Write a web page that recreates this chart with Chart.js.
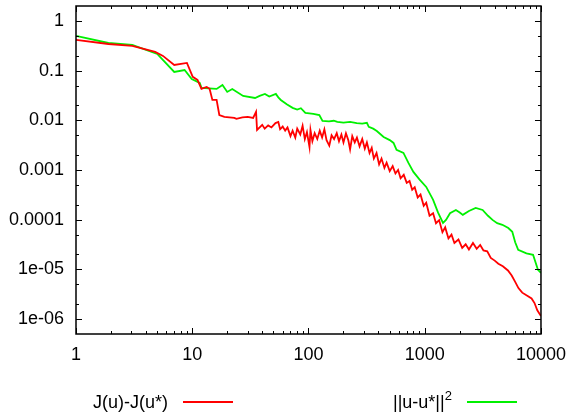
<!DOCTYPE html>
<html>
<head>
<meta charset="UTF-8">
<title>J(u)-J(u*) / ||u-u*||^2</title>
<style>
  body { margin: 0; background: #fff; }
  #wrap { position: relative; width: 576px; height: 413px; font-family: "Liberation Sans", Arial, sans-serif; }
  #c { position: absolute; left: 0; top: 0; }
  .lg { position: absolute; font-size: 18px; line-height: 20px; color: #000; white-space: nowrap; }
  .lg sup { font-size: 13px; vertical-align: 8px; line-height: 0; }
  .ln { position: absolute; height: 0; width: 50px; border-top: 2px solid; }
</style>
<script src="https://cdn.jsdelivr.net/npm/chart.js"></script>
</head>
<body>
<div id="wrap">
  <canvas id="c" width="576" height="413"></canvas>
  <div class="lg" style="left:93px; top:392px;">J(u)-J(u*)</div>
  <div class="ln" style="left:183px; top:401px; border-color:#ff0000;"></div>
  <div class="lg" style="left:393px; top:392px;">||u-u*||<sup>2</sup></div>
  <div class="ln" style="left:467px; top:401px; border-color:#00f000;"></div>
</div>
<script>
// J(u)-J(u*)
const iterJ = [1, 1.9, 3.05, 4.8, 5.6, 7.0, 9.0, 10.1, 11.1, 12.0, 13.3, 14.1, 14.9, 16.2, 17.1, 18.9, 23, 24, 27, 30, 33.4, 35.4, 36.1,
  40, 42, 45, 48, 52, 55, 57, 60, 63, 66, 70, 73, 77, 80, 85, 89, 93, 97, 102, 104, 108, 113, 119, 125, 131, 137, 143, 151, 158, 166,
  175, 183, 192, 200, 210, 220, 228, 238, 250, 261, 275, 290, 305, 318, 335, 350, 365, 385, 405, 425, 450, 470, 500, 530, 560, 590,
  620, 660, 700, 740, 780, 820, 870, 920, 980, 1030, 1100, 1180, 1250, 1330, 1420, 1500, 1600, 1700, 1800, 1950, 2100, 2250, 2400,
  2600, 2800, 3000, 3200, 3450, 3700, 4000, 4300, 4700, 5200, 5600, 6000, 6400, 6900, 7500, 8300, 8800, 9300, 10000];
const valJ = [0.415, 0.344, 0.314, 0.238, 0.198, 0.130, 0.143, 0.075, 0.065, 0.043, 0.047, 0.043, 0.0257, 0.0257, 0.0128, 0.0117, 0.0112, 0.0107, 0.0115, 0.0117, 0.0112, 0.0148, 0.0064,
  0.0081, 0.0068, 0.0079, 0.0072, 0.0088, 0.0093, 0.0066, 0.0075, 0.0062, 0.0072, 0.0048, 0.0062, 0.0045, 0.0068, 0.0052, 0.0078, 0.0042, 0.0058, 0.0029, 0.0064, 0.0038, 0.0055, 0.0042, 0.0062, 0.0045, 0.0066, 0.0040, 0.0031, 0.0050, 0.0042,
  0.0055, 0.0038, 0.0052, 0.0036, 0.0055, 0.0040, 0.0026, 0.0048, 0.0036, 0.0045, 0.0030, 0.0042, 0.0027, 0.0036, 0.0022, 0.0028, 0.0017, 0.0022, 0.0013, 0.0017, 0.0011, 0.0014, 0.00095, 0.0012, 0.00085, 0.0010,
  0.00068, 0.00080, 0.00055, 0.00060, 0.00040, 0.00045, 0.00028, 0.00032, 0.00019, 0.00022, 0.00012, 0.000135, 8.5e-5, 9.8e-5, 5.6e-5, 7e-5, 4.2e-5, 5e-5, 3.4e-5, 4e-5, 2.7e-5, 3.2e-5, 2.5e-5,
  3.4e-5, 2.6e-5, 3.1e-5, 2.4e-5, 2.3e-5, 1.7e-5, 1.5e-5, 1.3e-5, 1.15e-5, 9.5e-6, 7.5e-6, 5.6e-6, 4.2e-6, 3.4e-6, 3.0e-6, 2.6e-6, 2.1e-6, 1.5e-6, 1.15e-6];

// ||u-u*||^2
const iterU = [1, 1.9, 3.05, 5.0, 5.8, 7.0, 8.6, 9.9, 11.6, 12.0, 16.2, 18.2, 20.0, 22.1, 27.4, 34.7, 38, 42.2, 46, 52.4, 55, 57.8, 65, 73,
  80, 86, 94, 110, 124, 132, 150, 165, 177, 200, 228, 260, 290, 318, 330, 360, 387, 443, 500, 539, 572, 656, 724, 799, 900, 1030,
  1181, 1300, 1436, 1524, 1650, 1854, 2000, 2128, 2400, 2744, 3147, 3500, 3828, 4200, 4656, 5236, 5665, 6000, 6368, 7500, 8550, 9420, 10000];
const valU = [0.5, 0.36, 0.33, 0.217, 0.15, 0.094, 0.103, 0.068, 0.0566, 0.045, 0.0428, 0.0515, 0.0373, 0.0428, 0.031, 0.0282, 0.031, 0.034, 0.030, 0.034, 0.029, 0.0257, 0.021, 0.0178,
  0.0165, 0.0175, 0.0141, 0.0135, 0.0128, 0.0097, 0.0095, 0.0098, 0.0093, 0.0090, 0.0093, 0.0088, 0.0086, 0.0089, 0.0074, 0.0068, 0.0061, 0.00463, 0.0040, 0.00351, 0.00254, 0.00221, 0.00139, 0.000916, 0.00065, 0.000457,
  0.00025, 0.00014, 8.6e-5, 9.9e-5, 0.000135, 0.000157, 0.00014, 0.000125, 0.00015, 0.000173, 0.000157, 0.00012, 9.9e-5, 8.5e-5, 7.9e-5, 6.8e-5, 5.7e-5, 3.5e-5, 2.47e-5, 2.1e-5, 1.96e-5, 9.8e-6, 8.5e-6];

// axis ticks
const xMajor = [1, 10, 100, 1000, 10000];
const xLabels = ['1', '10', '100', '1000', '10000'];
const xMinorMant = [2, 3, 4, 5, 6, 7, 8, 9];
const yMajor = [1e-6, 1e-5, 1e-4, 1e-3, 1e-2, 1e-1, 1];
const yLabels = ['1e-06', '1e-05', '0.0001', '0.001', '0.01', '0.1', '1'];
const yMinorMant = [2, 5];

function minors(majors, mant, lo, hi) {
  const out = [];
  [majors[0] / 10].concat(majors).forEach(m => mant.forEach(k => {
    const v = m * k;
    if (v > lo && v < hi) out.push(v);
  }));
  return out;
}
const xMinor = minors(xMajor, xMinorMant, 1, 10000);
const yMinor = minors(yMajor, yMinorMant, 5e-7, 2);

function labelFor(v, majors, labels) {
  for (let i = 0; i < majors.length; i++) {
    if (Math.abs(Math.log10(v) - Math.log10(majors[i])) < 1e-6) return labels[i];
  }
  return '';
}

const tickPlugin = {
  id: 'frameTicks',
  afterDraw(chart) {
    const ctx = chart.ctx, a = chart.chartArea;
    const xs = chart.scales.x, ys = chart.scales.y;
    ctx.save();
    ctx.strokeStyle = '#000';
    ctx.lineWidth = 1;
    ctx.beginPath();
    const tick = (list, len) => {
      list.forEach(v => {
        const px = Math.round(xs.getPixelForValue(v)) + 0.5;
        ctx.moveTo(px, a.bottom); ctx.lineTo(px, a.bottom - len);
        ctx.moveTo(px, a.top); ctx.lineTo(px, a.top + len);
      });
    };
    const ytick = (list, len) => {
      list.forEach(v => {
        const py = Math.round(ys.getPixelForValue(v)) + 0.5;
        ctx.moveTo(a.left, py); ctx.lineTo(a.left + len, py);
        ctx.moveTo(a.right, py); ctx.lineTo(a.right - len, py);
      });
    };
    tick(xMajor, 6); tick(xMinor, 3);
    ytick(yMajor, 6); ytick(yMinor, 3);
    ctx.stroke();
    ctx.lineWidth = 1.5;
    ctx.strokeRect(a.left, a.top, a.right - a.left, a.bottom - a.top);
    ctx.restore();
  }
};

const font = { family: '"Liberation Sans", Arial, sans-serif', size: 18 };

new Chart(document.getElementById('c'), {
  type: 'scatter',
  data: {
    datasets: [
      { label: 'J(u)-J(u*)', data: iterJ.map((x, i) => ({ x: x, y: valJ[i] })),
        showLine: true, borderColor: '#ff0000', borderWidth: 1.8, pointRadius: 0, tension: 0 },
      { label: '||u-u*||^2', data: iterU.map((x, i) => ({ x: x, y: valU[i] })),
        showLine: true, borderColor: '#00f000', borderWidth: 1.8, pointRadius: 0, tension: 0 }
    ]
  },
  options: {
    responsive: false,
    animation: false,
    layout: { padding: { top: 6, right: 30, left: 0, bottom: 0 } },
    plugins: { legend: { display: false }, tooltip: { enabled: false } },
    scales: {
      x: {
        type: 'logarithmic', min: 1, max: 10000,
        grid: { display: false, drawTicks: false },
        border: { display: false },
        afterBuildTicks: s => { s.ticks = xMajor.map(v => ({ value: v, major: true })); },
        afterFit: s => { s.height = 79; },
        ticks: { autoSkip: false, maxRotation: 0, padding: 10, color: '#000', font: font,
          callback: v => labelFor(v, xMajor, xLabels) }
      },
      y: {
        type: 'logarithmic', min: 5e-7, max: 2,
        grid: { display: false, drawTicks: false },
        border: { display: false },
        afterBuildTicks: s => { s.ticks = yMajor.map(v => ({ value: v, major: true })); },
        afterFit: s => { s.width = 76; s.paddingTop = 0; s.paddingBottom = 0; },
        ticks: { autoSkip: false, padding: 12, color: '#000', font: font,
          callback: v => labelFor(v, yMajor, yLabels) }
      }
    }
  },
  plugins: [tickPlugin]
});
</script>
</body>
</html>
